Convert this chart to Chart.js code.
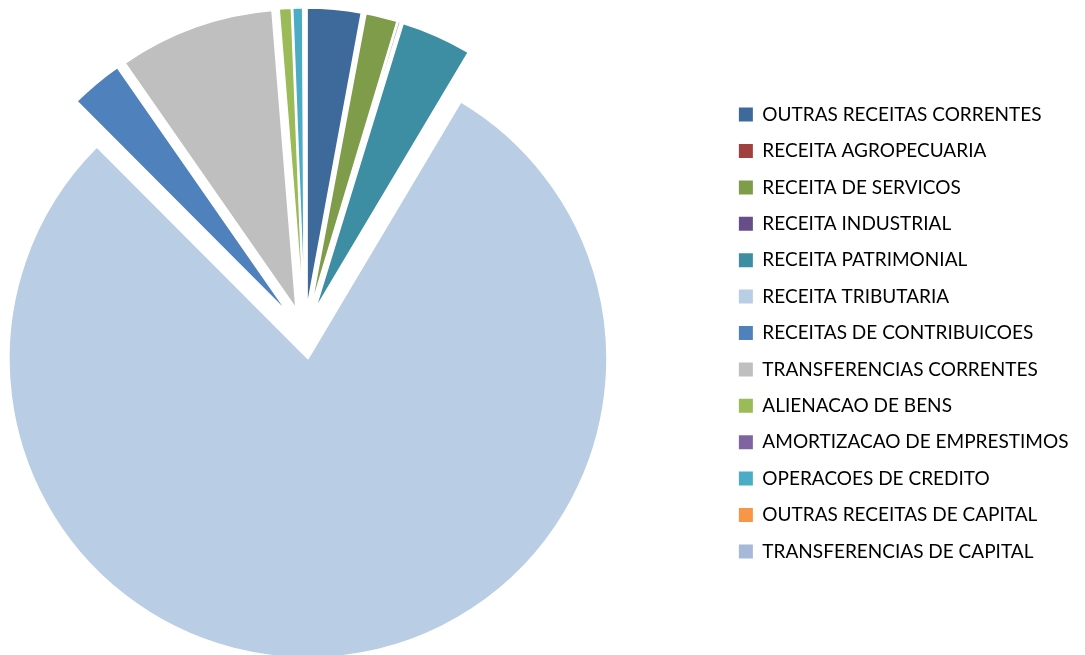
<!DOCTYPE html>
<html>
<head>
<meta charset="utf-8">
<script src="https://cdn.jsdelivr.net/npm/chart.js@4/dist/chart.umd.min.js"></script>
<style>
  html, body { margin: 0; padding: 0; background: #fff; overflow: hidden; }
  #pagina { width: 1085px; height: 655px; overflow: hidden; position: relative; }
  /* a área do gráfico começa fora da tela à esquerda, para a pizza ficar mais perto da borda */
  #wrap { position: absolute; left: -112px; top: 0; width: 1197px; height: 655px; }
</style>
</head>
<body>
<div id="pagina"><div id="wrap"><canvas id="receitasChart"></canvas></div></div>
<script>
// Receitas por origem (% do total arrecadado)
const categorias = [
    'OUTRAS RECEITAS CORRENTES',
    'RECEITA AGROPECUARIA',
    'RECEITA DE SERVICOS',
    'RECEITA INDUSTRIAL',
    'RECEITA PATRIMONIAL',
    'RECEITA TRIBUTARIA',
    'RECEITAS DE CONTRIBUICOES',
    'TRANSFERENCIAS CORRENTES',
    'ALIENACAO DE BENS',
    'AMORTIZACAO DE EMPRESTIMOS',
    'OPERACOES DE CREDITO',
    'OUTRAS RECEITAS DE CAPITAL',
    'TRANSFERENCIAS DE CAPITAL'
];
const valores = [2.9, 0.05, 1.7, 0.1, 3.8, 79.0, 2.8, 8.4, 0.65, 0.02, 0.53, 0.0, 0.08];
const cores = [
    '#3E6A9B', '#A0413F', '#7F9C4A', '#674E88', '#3D8EA3', '#B9CDE5', '#4F81BD',
    '#BFBFBF', '#9BBB59', '#8064A2', '#4BACC6', '#F79646', '#A7B9D9'
];

// distância (px) com que cada fatia é afastada do centro
const destaque = 26;

// Afasta todas as fatias pela mesma distância, na direção do meio de cada uma
const pluginDestaque = {
    id: 'destaqueFatias',
    afterDatasetsUpdate(chart) {
        chart.getDatasetMeta(0).data.forEach(arco => {
            const meio = (arco.startAngle + arco.endAngle) / 2;
            arco.x += Math.cos(meio) * destaque;
            arco.y += Math.sin(meio) * destaque;
        });
    }
};

const ctx = document.getElementById('receitasChart').getContext('2d');
new Chart(ctx, {
    type: 'pie',
    data: {
        labels: categorias,
        datasets: [{
            data: valores,
            backgroundColor: cores,
            borderColor: '#ffffff',
            borderWidth: 1.5
        }]
    },
    options: {
        responsive: true,
        maintainAspectRatio: false,
        animation: false,
        radius: 299,
        layout: {
            padding: { left: 0, right: 6.5, top: 11, bottom: 0 }
        },
        plugins: {
            tooltip: { enabled: false },
            legend: {
                position: 'right',
                labels: {
                    boxWidth: 14,
                    boxHeight: 14,
                    padding: 17.4,
                    color: '#000',
                    font: { family: 'Lato', size: 19 },
                    generateLabels: (chart) => {
                        const itens = Chart.overrides.pie.plugins.legend.labels.generateLabels(chart);
                        return itens.map(item => ({ ...item, lineWidth: 0, hidden: false }));
                    }
                }
            }
        }
    },
    plugins: [pluginDestaque]
});
</script>
</body>
</html>
